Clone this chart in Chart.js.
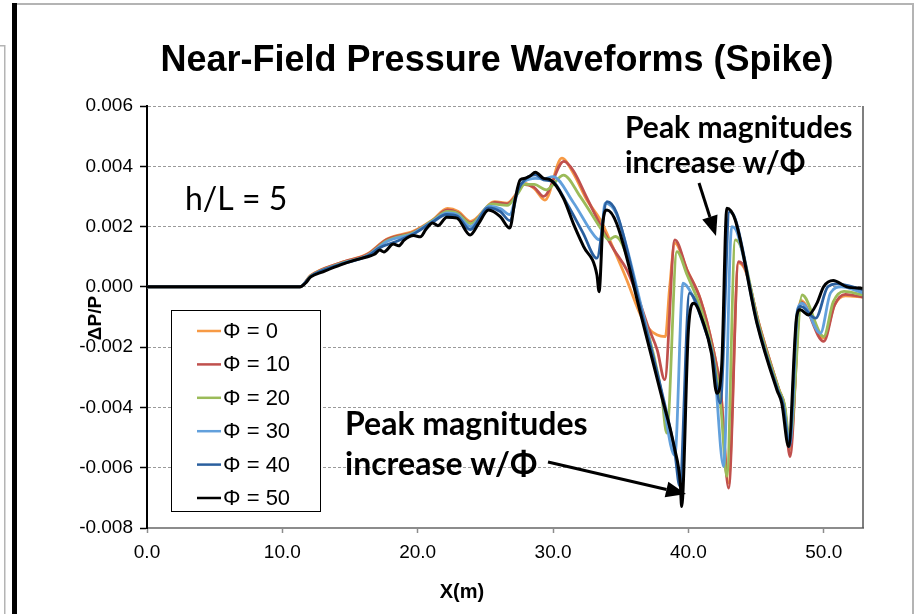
<!DOCTYPE html>
<html>
<head>
<meta charset="utf-8">
<script src="https://cdn.jsdelivr.net/npm/chart.js@4/dist/chart.umd.min.js"></script>
<style>
  html, body { margin: 0; padding: 0; background: #fff; }
  #waveChart { display: block; }
</style>
</head>
<body>
<canvas id="waveChart" width="917" height="614"></canvas>
<script>
// waveform samples: X in metres, ΔP/P
const phi0X = [0, 11.3, 12.1, 14.3, 16.3, 17.7, 19.7, 21.1, 22.2, 23.0, 23.9, 25.7, 26.6, 27.3, 27.8, 28.6, 29.4, 30.65, 31.5, 32.5, 33.5, 34.5, 35.45, 36.4, 37.0, 37.7, 38.3, 38.6, 39.0, 39.9, 40.9, 41.85, 42.4, 42.95, 43.7, 44.2, 45.2, 46.7, 47.1, 47.5, 48.3, 50.0, 50.8, 51.6, 52.9];
const phi0Y = [0, 0, 0.38e-3, 0.8e-3, 1.1e-3, 1.58e-3, 1.85e-3, 2.22e-3, 2.6e-3, 2.5e-3, 2.17e-3, 2.83e-3, 2.78e-3, 3.1e-3, 3.44e-3, 3.27e-3, 2.88e-3, 4.27e-3, 3.77e-3, 2.88e-3, 2.22e-3, 1.23e-3, 0.23e-3, -0.87e-3, -1.35e-3, -1.6e-3, -1.65e-3, -0.1e-3, 1.45e-3, 0.56e-3, -0.43e-3, -2.1e-3, -3.5e-3, -6.5e-3, 0.8e-3, 0.55e-3, -1.2e-3, -3.42e-3, -3.95e-3, -5.4e-3, -0.45e-3, -1.7e-3, -0.6e-3, -0.3e-3, -0.34e-3];

const phi10X = [0, 11.3, 12.1, 14.3, 16.3, 17.7, 19.7, 21.1, 22.2, 23.0, 23.9, 25.7, 26.6, 27.3, 27.8, 28.6, 29.3, 30.8, 31.5, 32.5, 33.5, 34.5, 35.45, 36.4, 37.0, 37.7, 38.25, 39.0, 39.9, 40.9, 41.85, 42.4, 42.97, 43.7, 44.2, 45.2, 46.7, 47.1, 47.5, 48.3, 50.0, 50.8, 51.6, 52.9];
const phi10Y = [0, 0, 0.37e-3, 0.8e-3, 1.08e-3, 1.56e-3, 1.82e-3, 2.2e-3, 2.55e-3, 2.45e-3, 2.12e-3, 2.8e-3, 2.75e-3, 3.05e-3, 3.4e-3, 3.3e-3, 3.0e-3, 4.16e-3, 3.85e-3, 2.95e-3, 2.05e-3, 1.23e-3, 0.56e-3, -0.5e-3, -1.3e-3, -2.1e-3, -3.08e-3, 1.56e-3, 0.56e-3, -0.43e-3, -2.1e-3, -3.5e-3, -6.68e-3, 0.84e-3, 0.6e-3, -1.2e-3, -3.42e-3, -3.95e-3, -5.63e-3, -0.5e-3, -1.81e-3, -0.6e-3, -0.25e-3, -0.34e-3];

const phi20X = [0, 11.3, 12.1, 14.3, 16.3, 17.7, 19.7, 21.1, 22.2, 22.9, 23.9, 25.5, 26.6, 27.4, 27.9, 28.6, 29.5, 30.77, 32.0, 33.5, 34.1, 34.6, 36.6, 38.0, 38.4, 39.15, 39.9, 40.9, 41.85, 42.4, 42.84, 43.46, 43.9, 45.2, 46.7, 47.1, 47.5, 48.4, 50.0, 50.7, 51.5, 52.9];
const phi20Y = [0, 0, 0.36e-3, 0.77e-3, 1.05e-3, 1.52e-3, 1.8e-3, 2.2e-3, 2.5e-3, 2.45e-3, 2.1e-3, 2.75e-3, 2.7e-3, 3.1e-3, 3.4e-3, 3.4e-3, 3.22e-3, 3.71e-3, 3.0e-3, 1.95e-3, 1.56e-3, 1.67e-3, -0.85e-3, -3.5e-3, -4.85e-3, 1.17e-3, 0.4e-3, -0.7e-3, -2.3e-3, -4.0e-3, -6.29e-3, 1.56e-3, 1.3e-3, -1.25e-3, -3.42e-3, -3.9e-3, -5.1e-3, -0.27e-3, -1.65e-3, -0.5e-3, -0.15e-3, -0.27e-3];

const phi30X = [0, 11.3, 12.1, 14.3, 16.3, 17.7, 19.7, 21.1, 22.2, 22.9, 23.9, 25.3, 26.1, 26.8, 27.4, 27.9, 28.7, 29.3, 30.0, 31.5, 33.24, 33.5, 33.85, 34.7, 36.6, 38.0, 39.0, 39.6, 40.2, 41.1, 41.9, 42.6, 43.2, 43.6, 45.1, 46.6, 47.0, 47.5, 48.1, 48.4, 49.75, 50.5, 51.3, 52.9];
const phi30Y = [0, 0, 0.35e-3, 0.76e-3, 1.04e-3, 1.5e-3, 1.78e-3, 2.18e-3, 2.45e-3, 2.4e-3, 2.0e-3, 2.68e-3, 2.6e-3, 2.4e-3, 3.25e-3, 3.5e-3, 3.6e-3, 3.58e-3, 3.66e-3, 2.8e-3, 1.6e-3, 1.56e-3, 2.78e-3, 2.4e-3, -0.8e-3, -3.5e-3, -5.6e-3, 0.12e-3, -0.2e-3, -1.25e-3, -2.6e-3, -5.96e-3, 2.0e-3, 1.8e-3, -1.25e-3, -3.42e-3, -3.9e-3, -5.2e-3, -0.7e-3, -0.55e-3, -1.54e-3, -0.2e-3, 0.0, -0.2e-3];

const phi40X = [0, 11.3, 12.1, 14.3, 16.3, 17.2, 18.2, 19.7, 21.1, 22.15, 22.9, 23.87, 25.23, 26.1, 26.8, 27.4, 27.9, 28.7, 29.3, 30.0, 31.0, 32.2, 33.24, 33.98, 34.7, 36.5, 38.0, 39.0, 39.35, 40.08, 41.1, 41.8, 42.35, 43.04, 43.5, 45.1, 46.6, 47.0, 47.45, 48.05, 48.3, 49.4, 50.3, 51.0, 52.9];
const phi40Y = [0, 0, 0.35e-3, 0.75e-3, 1.02e-3, 1.3e-3, 1.47e-3, 1.75e-3, 2.15e-3, 2.4e-3, 2.35e-3, 1.9e-3, 2.62e-3, 2.5e-3, 2.2e-3, 3.2e-3, 3.55e-3, 3.72e-3, 3.55e-3, 3.49e-3, 2.78e-3, 1.8e-3, 0.95e-3, 2.83e-3, 2.45e-3, -0.76e-3, -3.42e-3, -5.5e-3, -6.6e-3, -0.21e-3, -1.2e-3, -2.3e-3, -3.86e-3, 2.5e-3, 2.2e-3, -1.2e-3, -3.42e-3, -3.9e-3, -5.3e-3, -0.8e-3, -0.65e-3, -1.04e-3, 0.0, 0.1e-3, -0.1e-3];

const phi50X = [0, 11.3, 11.7, 12.1, 13.0, 14.3, 15.3, 16.3, 16.8, 17.2, 17.5, 18.2, 18.6, 19.0, 19.7, 20.2, 20.6, 21.1, 21.5, 22.15, 22.9, 23.87, 24.5, 25.23, 26.1, 26.8, 27.2, 27.57, 27.94, 28.3, 28.7, 29.3, 29.8, 30.77, 31.5, 32.25, 33.24, 33.4, 33.7, 33.98, 34.7, 36.4, 37.9, 39.0, 39.4, 39.5, 40.0, 40.4, 41.1, 41.7, 42.1, 42.47, 42.84, 43.46, 45.06, 46.54, 46.9, 47.4, 48.0, 48.26, 48.87, 49.5, 50.0, 50.7, 51.7, 52.9];
const phi50Y = [0, 0, 0.12e-3, 0.33e-3, 0.5e-3, 0.73e-3, 0.88e-3, 1.0e-3, 1.08e-3, 1.22e-3, 1.16e-3, 1.42e-3, 1.36e-3, 1.55e-3, 1.7e-3, 1.66e-3, 1.9e-3, 2.12e-3, 2.03e-3, 2.31e-3, 2.28e-3, 1.72e-3, 2.1e-3, 2.55e-3, 2.33e-3, 1.95e-3, 2.9e-3, 3.55e-3, 3.6e-3, 3.68e-3, 3.8e-3, 3.6e-3, 3.55e-3, 2.94e-3, 2.1e-3, 1.34e-3, 0.4e-3, -0.16e-3, 2.2e-3, 2.55e-3, 2.1e-3, -0.76e-3, -3.42e-3, -5.4e-3, -6.5e-3, -7.29e-3, -1.43e-3, -0.54e-3, -1.2e-3, -2.2e-3, -3.53e-3, -2.53e-3, 2.61e-3, 2.22e-3, -1.2e-3, -3.42e-3, -3.86e-3, -5.3e-3, -0.98e-3, -0.76e-3, -0.93e-3, -0.54e-3, 0.01e-3, 0.21e-3, 0.0, -0.05e-3];

const seriesLabels = ["Φ = 0", "Φ = 10", "Φ = 20", "Φ = 30", "Φ = 40", "Φ = 50"];
const seriesColors = ["#F79A45", "#C0504D", "#9BBB59", "#62A0DC", "#2A5F9E", "#000000"];
const seriesX = [phi0X, phi10X, phi20X, phi30X, phi40X, phi50X];
const seriesY = [phi0Y, phi10Y, phi20Y, phi30Y, phi40Y, phi50Y];

const xTickStep = 10;
const yTickStep = 0.002;

const datasets = seriesLabels.map((label, i) => ({
  label,
  data: seriesX[i].map((x, j) => ({ x, y: seriesY[i][j] })),
  borderColor: seriesColors[i],
  borderWidth: i === 5 ? 3 : 2.8,
  pointRadius: 0,
  cubicInterpolationMode: "monotone",
  order: 5 - i, // higher Φ drawn on top
}));

function drawArrow(ctx, x1, y1, x2, y2) {
  const ang = Math.atan2(y2 - y1, x2 - x1);
  const headLen = 20, headW = 8;
  const bx = x2 - headLen * Math.cos(ang), by = y2 - headLen * Math.sin(ang);
  ctx.strokeStyle = "#000";
  ctx.lineWidth = 3;
  ctx.beginPath();
  ctx.moveTo(x1, y1);
  ctx.lineTo(bx, by);
  ctx.stroke();
  ctx.fillStyle = "#000";
  ctx.beginPath();
  ctx.moveTo(x2, y2);
  ctx.lineTo(bx + headW * Math.sin(ang), by - headW * Math.cos(ang));
  ctx.lineTo(bx - headW * Math.sin(ang), by + headW * Math.cos(ang));
  ctx.closePath();
  ctx.fill();
}

// page frame, titles, notes and legend box
const decorations = {
  id: "decorations",
  beforeDraw(chart) {
    const ctx = chart.ctx;
    ctx.save();
    ctx.fillStyle = "#fff";
    ctx.fillRect(0, 0, chart.width, chart.height);
    ctx.fillStyle = "#b4b4b4";
    ctx.fillRect(17, 3, 897, 2);
    ctx.fillRect(912, 3, 2, 611);
    ctx.fillRect(4, 45, 1.5, 569);
    ctx.fillRect(0, 45, 5, 1.5);
    ctx.fillStyle = "#000";
    ctx.fillRect(12, 3, 5, 611);
    ctx.restore();
  },
  afterDraw(chart) {
    const ctx = chart.ctx;
    const area = chart.chartArea;
    ctx.save();
    // right edge of the plot
    ctx.strokeStyle = "#555";
    ctx.lineWidth = 1.5;
    ctx.beginPath();
    ctx.moveTo(area.right, area.top);
    ctx.lineTo(area.right, area.bottom);
    ctx.stroke();

    ctx.fillStyle = "#000";
    ctx.textAlign = "center";
    ctx.textBaseline = "middle";
    ctx.font = "bold 36px 'Liberation Sans', Arial, sans-serif";
    ctx.fillText("Near-Field Pressure Waveforms (Spike)", 497, 61);

    ctx.font = "bold 20px 'Liberation Sans', Arial, sans-serif";
    ctx.fillText("X(m)", 462, 592);
    ctx.font = "bold 19px 'Liberation Sans', Arial, sans-serif";
    ctx.save();
    ctx.translate(96, 318);
    ctx.rotate(-Math.PI / 2);
    ctx.fillText("ΔP/P", 0, 0);
    ctx.restore();

    ctx.textAlign = "left";
    ctx.textBaseline = "alphabetic";
    ctx.font = "32px Lato, 'Open Sans', sans-serif";
    ctx.fillText("h/L = 5", 185, 210);

    ctx.font = "bold 30px Lato, 'Open Sans', sans-serif";
    ctx.fillText("Peak magnitudes", 625, 138);
    ctx.fillText("increase w/Φ", 625, 173);
    ctx.font = "bold 32px Lato, 'Open Sans', sans-serif";
    ctx.fillText("Peak magnitudes", 345, 435);
    ctx.fillText("increase w/Φ", 345, 475);

    drawArrow(ctx, 699, 183, 716, 236);
    drawArrow(ctx, 548, 462, 686, 494);

    // legend
    ctx.fillStyle = "#fff";
    ctx.fillRect(171.5, 310.5, 149, 201);
    ctx.strokeStyle = "#000";
    ctx.lineWidth = 1;
    ctx.strokeRect(171.5, 310.5, 149, 201);
    ctx.font = "22px 'Liberation Sans', Arial, sans-serif";
    ctx.textBaseline = "middle";
    chart.data.datasets.forEach((ds, i) => {
      const cy = 331 + i * 33.4;
      ctx.strokeStyle = ds.borderColor;
      ctx.lineWidth = 2.5;
      ctx.beginPath();
      ctx.moveTo(197, cy);
      ctx.lineTo(221, cy);
      ctx.stroke();
      ctx.fillStyle = "#000";
      ctx.fillText(ds.label, 223, cy + 1);
    });
    ctx.restore();
  },
};

const tickFont = { family: "'Liberation Sans', Arial, sans-serif", size: 19 };

new Chart(document.getElementById("waveChart"), {
  type: "line",
  data: { datasets },
  options: {
    responsive: false,
    animation: false,
    layout: { padding: { top: 106, right: 54, left: 0, bottom: 0 } },
    plugins: {
      legend: { display: false },
      title: { display: false },
      tooltip: { enabled: false },
    },
    scales: {
      x: {
        type: "linear",
        min: 0,
        max: 52.9,
        ticks: {
          stepSize: xTickStep,
          includeBounds: false,
          color: "#000",
          font: tickFont,
          padding: 8,
          maxRotation: 0,
          callback: (v) => v.toFixed(1),
        },
        grid: { drawOnChartArea: false, tickLength: 5, tickColor: "#8c8c8c", tickWidth: 1.5 },
        border: { color: "#8c8c8c", width: 2 },
        afterFit: (scale) => { scale.height = 86; },
      },
      y: {
        type: "linear",
        min: -0.008,
        max: 0.006,
        ticks: {
          stepSize: yTickStep,
          color: "#000",
          font: tickFont,
          padding: 7,
          callback: (v) => (Math.abs(v) < 1e-9 ? "0.000" : v.toFixed(3)),
        },
        grid: { color: "#9a9a9a", lineWidth: 1, tickLength: 7, tickColor: "#000", tickWidth: 1.5 },
        border: { color: "#000", width: 2, dash: [3, 2] },
        afterFit: (scale) => { scale.width = 147; },
      },
    },
  },
  plugins: [decorations],
});
</script>
</body>
</html>
